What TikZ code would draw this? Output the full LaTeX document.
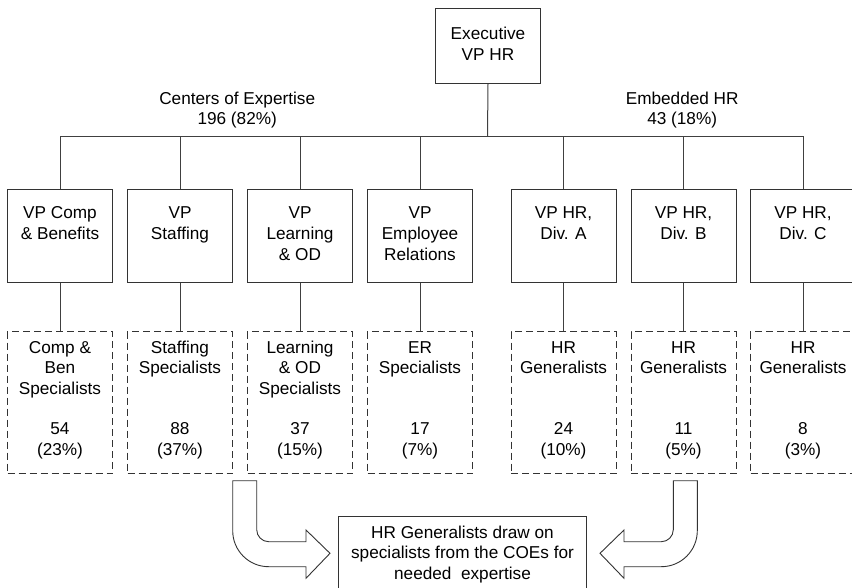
\documentclass[tikz,border=0pt]{standalone}
\usepackage{fontspec}
\setmainfont{Liberation Sans}
\usetikzlibrary{calc}

% top aligned text inside the fixed size boxes
\newcommand{\vptext}[1]{\parbox[t][93pt][t]{105pt}{\centering\vspace*{14.7pt}\strut #1}}
\newcommand{\spectext}[2]{\parbox[t][142pt][t]{105pt}{\centering\vspace*{7.1pt}\strut #1\par\vfill\strut #2\strut\par\vspace*{11.6pt}}}

\tikzset{
  orgbox/.style={draw=black!80, line width=1pt, inner sep=0pt, anchor=north west},
  specbox/.style={orgbox, dash pattern=on 7pt off 4pt},
  link/.style={draw=black!75, line width=1pt},
  blockarrow/.style={draw=black!80, line width=0.9pt, fill=white, line join=miter},
}

\begin{document}
\begin{tikzpicture}[x=1pt,y=1pt,yscale=-1, font=\fontsize{17.2}{20.8}\selectfont]
    \useasboundingbox (0,0) rectangle (852,587); %whole diagram, 852 x 587

    % Text Node
    \node[orgbox] (exec) at (435,8) {\parbox[t][75pt][t]{105pt}{\centering\vspace*{16.8pt}\strut Executive\\VP HR}};

    % Text Node
    \node[anchor=south, align=center, inner sep=0pt] (coe) at (237.2,128.6) {Centers of Expertise\\196 (82\%)};
    % Text Node
    \node[anchor=south, align=center, inner sep=0pt] (emb) at (682.2,128.6) {Embedded HR\\43 (18\%)};

    % VP boxes
    \node[orgbox] (vp1) at (7,189) {\vptext{VP Comp\\\& Benefits}};
    \node[orgbox] (vp2) at (127,189) {\vptext{VP\\Staffing}};
    \node[orgbox] (vp3) at (247,189) {\vptext{VP\\Learning\\\& OD}};
    \node[orgbox] (vp4) at (367,189) {\vptext{VP\\Employee\\Relations}};
    \node[orgbox] (vp5) at (510.5,189) {\vptext{VP HR,\\Div. A}};
    \node[orgbox] (vp6) at (630.5,189) {\vptext{VP HR,\\Div. B}};
    \node[orgbox] (vp7) at (750,189) {\vptext{VP HR,\\Div. C}};

    % Specialist boxes
    \node[specbox] (spec1) at (7,331) {\spectext{Comp \&\\Ben\\Specialists}{54\\(23\%)}};
    \node[specbox] (spec2) at (127,331) {\spectext{Staffing\\Specialists}{88\\(37\%)}};
    \node[specbox] (spec3) at (247,331) {\spectext{Learning\\\& OD\\Specialists}{37\\(15\%)}};
    \node[specbox] (spec4) at (367,331) {\spectext{ER\\Specialists}{17\\(7\%)}};
    \node[specbox] (spec5) at (510.5,331) {\spectext{HR\\Generalists}{24\\(10\%)}};
    \node[specbox] (spec6) at (630.5,331) {\spectext{HR\\Generalists}{11\\(5\%)}};
    \node[specbox] (spec7) at (750,331) {\spectext{HR\\Generalists}{8\\(3\%)}};

    % Text Node
    \node[orgbox] (note) at (338,516) {\parbox[t][80pt][t]{248pt}{\centering\vspace*{7.1pt}\strut HR Generalists draw on\\specialists from the COEs for\\needed\ \ expertise}};

    %Straight Lines
    \coordinate (hub) at (487.5,136);
    \draw[link] (exec.south) -- (hub);
    \draw[link] (hub) -| (vp1.north);
    \draw[link] (hub) -| (vp2.north);
    \draw[link] (hub) -| (vp3.north);
    \draw[link] (hub) -| (vp4.north);
    \draw[link] (hub) -| (vp5.north);
    \draw[link] (hub) -| (vp6.north);
    \draw[link] (hub) -| (vp7.north);
    \draw[link] (vp1.south) -- (spec1.north);
    \draw[link] (vp2.south) -- (spec2.north);
    \draw[link] (vp3.south) -- (spec3.north);
    \draw[link] (vp4.south) -- (spec4.north);
    \draw[link] (vp5.south) -- (spec5.north);
    \draw[link] (vp6.south) -- (spec6.north);
    \draw[link] (vp7.south) -- (spec7.north);

    %Shape: Bent Arrow, left one and its mirror image
    \draw[blockarrow] (232.7,480.7) -- (256.7,480.7) -- (256.7,529.7) .. controls (256.7,536.3) and (262.1,541.7) .. (268.7,541.7) -- (306,541.7) -- (306,530) -- (330,553.3) -- (306,578.3) -- (306,566.7) -- (268.7,566.7) .. controls (248.8,566.7) and (232.7,550.6) .. (232.7,530.7) -- cycle;
    \begin{scope}[xshift=930pt, xscale=-1]
    \draw[blockarrow] (232.7,480.7) -- (256.7,480.7) -- (256.7,529.7) .. controls (256.7,536.3) and (262.1,541.7) .. (268.7,541.7) -- (306,541.7) -- (306,530) -- (330,553.3) -- (306,578.3) -- (306,566.7) -- (268.7,566.7) .. controls (248.8,566.7) and (232.7,550.6) .. (232.7,530.7) -- cycle;
    \end{scope}
\end{tikzpicture}
\end{document}
